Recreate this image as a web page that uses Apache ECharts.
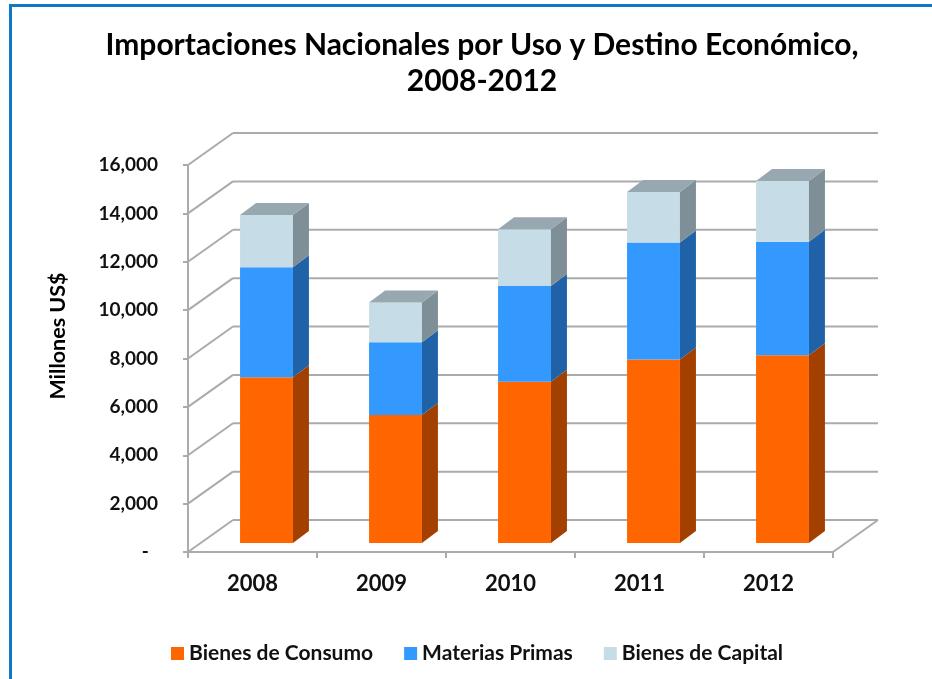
<!DOCTYPE html>
<html><head><meta charset="utf-8">
<script src="https://cdn.jsdelivr.net/npm/echarts@6/dist/echarts.min.js"></script>
<style>html,body{margin:0;padding:0;background:#fff}#c{width:932px;height:679px}</style>
</head><body><div id="c"></div>
<script>
// ---- data ----
const categories = ['2008', '2009', '2010', '2011', '2012'];
const consumo   = [6850, 5290, 6670, 7590, 7760];
const materias  = [4550, 3010, 3960, 4830, 4690];
const capital   = [2160, 1640, 2340, 2090, 2520];
const seriesNames = ['Bienes de Consumo', 'Materias Primas', 'Bienes de Capital'];
const yTicks = [0, 2000, 4000, 6000, 8000, 10000, 12000, 14000, 16000];
const titleText = 'Importaciones Nacionales por Uso y Destino Económico,\n2008-2012';
const yName = 'Millones US$';

// ---- style ----
const FRONT = ['#ff6600', '#3399ff', '#c6dde7'];
const SIDE  = ['#a34000', '#1f62a8', '#7e8f97'];
const TOPC  = ['#ff8c40', '#5aa8f0', '#97a8b0'];
const WALL_DX = 45, WALL_DY = -32;
const BAR_OX = 14, BAR_OY = -9;
const BAR_DX = 16, BAR_DY = -12;
const BAR_FRAC = 0.41;
const GRID_COLOR = '#ababab';
const FONT = 'Lato';

const stacks = [consumo, materias, capital];

function barData(s) {
  return categories.map((c, i) => {
    let lo = 0;
    for (let k = 0; k < s; k++) lo += stacks[k][i];
    return [i, lo, lo + stacks[s][i]];
  });
}

function makeRender(s) {
  return function (params, api) {
    const cat = api.value(0), lo = api.value(1), hi = api.value(2);
    const pLo = api.coord([cat, lo]), pHi = api.coord([cat, hi]);
    const bw = api.size([1, 0])[0] * BAR_FRAC;
    const x0 = pLo[0] - bw / 2 + BAR_OX, x1 = x0 + bw;
    const yb = pLo[1] + BAR_OY, yt = pHi[1] + BAR_OY;
    const children = [
      { type: 'rect', shape: { x: x0, y: yt, width: bw, height: yb - yt }, style: { fill: FRONT[s] } },
      { type: 'polygon', shape: { points: [[x1, yb], [x1, yt], [x1 + BAR_DX, yt + BAR_DY], [x1 + BAR_DX, yb + BAR_DY]] }, style: { fill: SIDE[s] } }
    ];
    if (s === stacks.length - 1) {
      children.push({ type: 'polygon', shape: { points: [[x0, yt], [x1, yt], [x1 + BAR_DX, yt + BAR_DY], [x0 + BAR_DX, yt + BAR_DY]] }, style: { fill: TOPC[s] } });
    }
    return { type: 'group', children: children };
  };
}

function renderWalls(params, api) {
  const cs = params.coordSys;
  const left = cs.x, right = cs.x + cs.width;
  const children = [];
  yTicks.forEach(t => {
    const y = api.coord([0, t])[1];
    children.push({ type: 'line', shape: { x1: left, y1: y, x2: left + WALL_DX, y2: y + WALL_DY }, style: { stroke: GRID_COLOR, lineWidth: 2 } });
    children.push({ type: 'line', shape: { x1: left + WALL_DX, y1: y + WALL_DY, x2: right + WALL_DX, y2: y + WALL_DY }, style: { stroke: GRID_COLOR, lineWidth: 2 } });
  });
  const y0 = api.coord([0, 0])[1];
  children.push({ type: 'line', shape: { x1: right, y1: y0, x2: right + WALL_DX, y2: y0 + WALL_DY }, style: { stroke: GRID_COLOR, lineWidth: 2 } });
  return { type: 'group', children: children };
}

const chart = echarts.init(document.getElementById('c'), null, { renderer: 'canvas' });

const series = [{
  type: 'custom', name: '_walls', data: [[0, 0]], renderItem: renderWalls, silent: true, z: 1, clip: false,
  encode: { x: 0, y: 1 }
}];
seriesNames.forEach((n, s) => {
  series.push({
    type: 'custom', name: n, data: barData(s), renderItem: makeRender(s), z: 5 + s, clip: false,
    itemStyle: { color: FRONT[s] }, encode: { x: 0, y: [1, 2] }
  });
});

chart.setOption({
  animation: false,
  backgroundColor: '#fff',
  grid: { left: 188, right: 99, top: 165, bottom: 127, containLabel: false },
  xAxis: {
    type: 'category', data: categories,
    axisLine: { show: true, lineStyle: { color: GRID_COLOR, width: 2 } },
    axisTick: { show: true, length: 6, lineStyle: { color: GRID_COLOR, width: 2 } },
    axisLabel: { margin: 21, fontFamily: FONT, fontWeight: 'bold', fontSize: 22, color: '#111' },
    splitLine: { show: false }
  },
  yAxis: {
    type: 'value', min: 0, max: 16000, interval: 2000,
    axisLine: { show: true, lineStyle: { color: GRID_COLOR, width: 2 } },
    axisTick: { show: true, length: 5, lineStyle: { color: GRID_COLOR, width: 2 } },
    axisLabel: {
      margin: 30, fontFamily: FONT, fontWeight: 'bold', fontSize: 19, color: '#111',
      formatter: v => v === 0 ? '-  ' : v.toLocaleString('en-US')
    },
    splitLine: { show: false }
  },
  legend: {
    data: seriesNames, left: 166, top: 638, icon: 'rect', itemWidth: 13, itemHeight: 13, itemGap: 31,
    textStyle: { fontFamily: FONT, fontWeight: 'bold', fontSize: 21, color: '#111' }
  },
  graphic: [
    { type: 'line', shape: { x1: 9, y1: 5.5, x2: 932, y2: 5.5 }, style: { stroke: '#0e78c6', lineWidth: 3 } },
    { type: 'line', shape: { x1: 10.5, y1: 4, x2: 10.5, y2: 679 }, style: { stroke: '#0e78c6', lineWidth: 3 } },
    { type: 'text', x: 482, y: 27, style: { text: titleText, fill: '#000', font: 'bold 30px Lato', textAlign: 'center', lineHeight: 36 } },
    { type: 'text', x: 58, y: 336, rotation: Math.PI / 2, style: { text: yName, fill: '#000', font: 'bold 21.5px Lato', textAlign: 'center', textVerticalAlign: 'middle' } }
  ],
  series: series
});
</script>
</body></html>
